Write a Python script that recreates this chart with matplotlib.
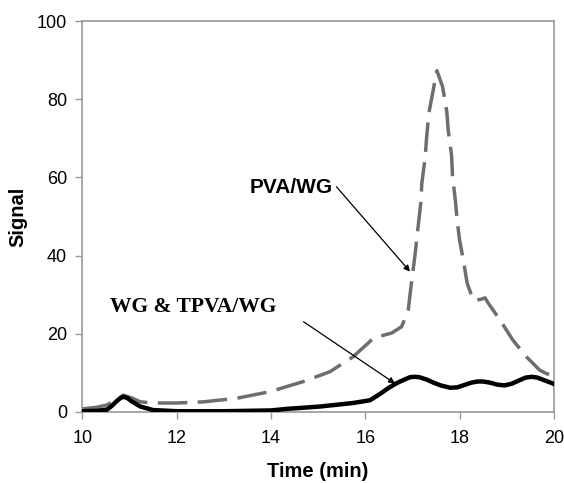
import matplotlib
matplotlib.use("Agg")
import matplotlib.pyplot as plt

# PVA/WG (dashed gray)
pva_t = [10.0, 10.3, 10.52, 10.7, 10.87, 11.05, 11.23, 11.5, 12.0, 12.57, 13.27, 13.98, 14.69, 15.25,
         15.74, 16.06, 16.17, 16.56, 16.77, 16.91, 16.98, 17.06, 17.12, 17.18, 17.2, 17.27, 17.3,
         17.35, 17.43, 17.52, 17.64, 17.73, 17.76, 17.83, 17.85, 17.91, 17.95, 18.0, 18.08, 18.16,
         18.29, 18.45, 18.54, 18.6, 18.86, 19.13, 19.42, 19.7, 19.85, 20.0]
pva_v = [0.8, 1.2, 1.8, 3.0, 4.3, 3.6, 2.6, 2.3, 2.3, 2.6, 3.5, 5.2, 7.8, 10.3,
         14.1, 17.6, 18.9, 20.2, 21.8, 26.0, 33.0, 40.6, 47.3, 53.7, 58.5, 65.0, 70.0,
         76.5, 81.6, 87.3, 83.2, 76.8, 72.0, 65.7, 60.6, 54.2, 49.0, 44.0, 38.9, 33.0,
         28.6, 28.8, 29.2, 28.0, 23.5, 18.4, 14.1, 10.7, 9.8, 9.3]

# WG & TPVA/WG (solid black)
wg_t = [10.0, 10.3, 10.52, 10.62, 10.72, 10.8, 10.87, 10.95, 11.05, 11.23, 11.5, 12.0, 13.0, 14.0,
        14.34, 15.04, 15.74, 16.1, 16.31, 16.5, 16.67, 16.85, 16.95, 17.05, 17.15, 17.3, 17.45,
        17.6, 17.8, 17.95, 18.1, 18.25, 18.38, 18.5, 18.65, 18.8, 18.95, 19.1, 19.25, 19.4,
        19.53, 19.65, 19.8, 20.0]
wg_v = [0.2, 0.3, 0.6, 1.5, 2.7, 3.5, 3.9, 3.6, 2.7, 1.4, 0.5, 0.2, 0.2, 0.4,
        0.8, 1.4, 2.3, 3.0, 4.6, 6.2, 7.4, 8.4, 8.9, 9.0, 8.9, 8.3, 7.5,
        6.8, 6.2, 6.3, 6.9, 7.5, 7.8, 7.8, 7.5, 7.0, 6.8, 7.2, 8.0, 8.8,
        9.0, 8.8, 8.1, 7.2]

x_ticks = [10, 12, 14, 16, 18, 20]
y_ticks = [0, 20, 40, 60, 80, 100]

fig = plt.figure(figsize=(5.64, 4.83), dpi=100)
ax = fig.add_axes([0.146, 0.147, 0.836, 0.8095])

ax.plot(pva_t, pva_v, color='#6e6e6e', lw=2.5, linestyle=(0, (8.5, 3)), zorder=2)
ax.plot(wg_t, wg_v, color='black', lw=3.2, zorder=3, solid_joinstyle='round')

ax.set_xlim(10, 20)
ax.set_ylim(0, 100)
ax.set_xticks(x_ticks)
ax.set_yticks(y_ticks)
for s in ax.spines.values():
    s.set_color('#999999')
    s.set_linewidth(1.2)
ax.tick_params(axis='both', direction='out', length=5, width=1.0, color='#999999',
               labelsize=13, labelcolor='black')
ax.tick_params(axis='x', pad=8)
ax.tick_params(axis='y', pad=6)
for lab in ax.get_xticklabels() + ax.get_yticklabels():
    lab.set_family('Liberation Sans')

ax.set_xlabel('Time (min)', fontsize=14.5, fontweight='bold', family='Liberation Sans', labelpad=11)
ax.set_ylabel('Signal', fontsize=14.5, fontweight='bold', family='Liberation Sans', labelpad=7)

arrow_kw = dict(arrowstyle='-|>', lw=0.9, color='black', mutation_scale=9, shrinkA=0, shrinkB=0)
ax.text(15.32, 57.4, 'PVA/WG', fontsize=15, fontweight='bold', family='Liberation Sans',
        ha='right', va='center')
ax.annotate('', xy=(16.95, 35.9), xytext=(15.39, 57.6), arrowprops=arrow_kw)
ax.text(14.12, 26.9, 'WG & TPVA/WG', fontsize=15.5, fontweight='bold', family='Liberation Serif',
        ha='right', va='center')
ax.annotate('', xy=(16.63, 7.3), xytext=(14.69, 23.1), arrowprops=arrow_kw)

fig.savefig('out.png', dpi=100)
